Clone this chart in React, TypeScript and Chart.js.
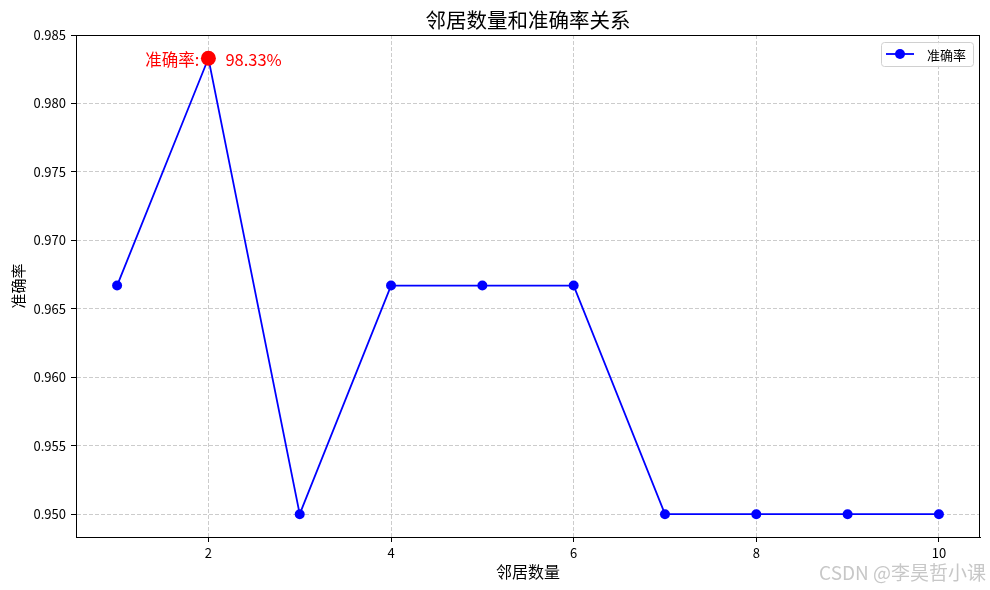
import { useEffect, useRef } from "react";
import { Chart, registerables } from "chart.js";

Chart.register(...registerables);

const neighbors = [1, 2, 3, 4, 5, 6, 7, 8, 9, 10];
const accuracy = [0.9667, 0.9833, 0.95, 0.9667, 0.9667, 0.9667, 0.95, 0.95, 0.95, 0.95];
const xTicks = [2, 4, 6, 8, 10];
const yTicks = [0.95, 0.955, 0.96, 0.965, 0.97, 0.975, 0.98, 0.985];

const FONT = '"Noto Sans CJK SC", sans-serif';

const decor = {
  id: "decor",
  afterDraw(chart: Chart) {
    const { ctx, chartArea: a, scales } = chart;
    const xs = scales.x;
    const ys = scales.y;
    ctx.save();

    // frame
    ctx.strokeStyle = "#000";
    ctx.lineWidth = 1;
    ctx.strokeRect(a.left + 0.5, a.top + 0.5, a.right - a.left - 1, a.bottom - a.top);

    // title
    ctx.fillStyle = "#000";
    ctx.font = `20.5px ${FONT}`;
    ctx.textAlign = "center";
    ctx.textBaseline = "middle";
    ctx.fillText("邻居数量和准确率关系", (a.left + a.right) / 2, 20);

    // best point annotation
    let bi = 0;
    accuracy.forEach((v, i) => {
      if (v > accuracy[bi]) bi = i;
    });
    const px = xs.getPixelForValue(neighbors[bi]);
    const py = ys.getPixelForValue(accuracy[bi]);
    ctx.fillStyle = "red";
    ctx.font = `16.5px ${FONT}`;
    ctx.textBaseline = "middle";
    ctx.textAlign = "right";
    ctx.fillText("准确率:", px - 9, py + 1);
    ctx.textAlign = "left";
    ctx.fillText((accuracy[bi] * 100).toFixed(2) + "%", px + 17, py + 1);
    ctx.beginPath();
    ctx.arc(px, py, 7.5, 0, Math.PI * 2);
    ctx.fill();

    // legend
    const lw = 92;
    const lh = 24;
    const lx = a.right - 7 - lw;
    const ly = a.top + 7;
    ctx.beginPath();
    ctx.roundRect(lx + 0.5, ly + 0.5, lw, lh, 3);
    ctx.fillStyle = "rgba(255,255,255,0.8)";
    ctx.fill();
    ctx.strokeStyle = "#d0d0d0";
    ctx.lineWidth = 1;
    ctx.stroke();
    ctx.strokeStyle = "#0000ff";
    ctx.lineWidth = 1.8;
    ctx.beginPath();
    ctx.moveTo(lx + 5, ly + lh / 2);
    ctx.lineTo(lx + 33, ly + lh / 2);
    ctx.stroke();
    ctx.fillStyle = "#0000ff";
    ctx.beginPath();
    ctx.arc(lx + 19, ly + lh / 2, 5, 0, Math.PI * 2);
    ctx.fill();
    ctx.fillStyle = "#000";
    ctx.font = `13px ${FONT}`;
    ctx.textAlign = "left";
    ctx.fillText("准确率", lx + 46, ly + lh / 2 + 1);

    // watermark
    ctx.fillStyle = "rgba(180,180,180,0.75)";
    ctx.font = `19px ${FONT}`;
    ctx.textAlign = "right";
    ctx.fillText("CSDN @李昊哲小课", 986, 573);

    ctx.restore();
  },
};

export default function App() {
  const canvasRef = useRef<HTMLCanvasElement>(null);

  useEffect(() => {
    if (!canvasRef.current) return;
    const chart = new Chart(canvasRef.current, {
      type: "line",
      data: {
        datasets: [
          {
            label: "准确率",
            data: neighbors.map((k, i) => ({ x: k, y: accuracy[i] })),
            borderColor: "#0000ff",
            backgroundColor: "#0000ff",
            borderWidth: 1.8,
            pointRadius: 5,
            pointBorderWidth: 0,
            pointBackgroundColor: "#0000ff",
            tension: 0,
          },
        ],
      },
      options: {
        responsive: true,
        maintainAspectRatio: false,
        animation: false,
        layout: { padding: { top: 35, right: 10, left: 0, bottom: 0 } },
        plugins: { legend: { display: false }, title: { display: false }, tooltip: { enabled: false } },
        scales: {
          x: {
            type: "linear",
            min: 0.55,
            max: 10.45,
            afterBuildTicks: (s: any) => {
              s.ticks = xTicks.map((v) => ({ value: v }));
            },
            afterFit: (s: any) => {
              s.height = 53;
            },
            grid: {
              color: "#cccccc",
              tickColor: "#000",
              tickLength: 5,
              tickBorderDash: [],
              tickWidth: 1,
            },
            border: { display: true, color: "#000", width: 1, dash: [4, 2] },
            ticks: { color: "#000", font: { family: FONT, size: 13 }, padding: 3, maxRotation: 0 },
            title: {
              display: true,
              text: "邻居数量",
              color: "#000",
              font: { family: FONT, size: 16 },
              padding: { top: 4, bottom: 8 },
            },
          },
          y: {
            type: "linear",
            min: 0.948333,
            max: 0.985,
            afterBuildTicks: (s: any) => {
              s.ticks = yTicks.map((v) => ({ value: v }));
            },
            afterFit: (s: any) => {
              s.width = 76;
            },
            grid: {
              color: "#cccccc",
              tickColor: "#000",
              tickLength: 5,
              tickBorderDash: [],
              tickWidth: 1,
            },
            border: { display: true, color: "#000", width: 1, dash: [4, 2] },
            ticks: {
              color: "#000",
              font: { family: FONT, size: 13 },
              padding: 5,
              callback: (v: any) => Number(v).toFixed(3),
            },
            title: {
              display: true,
              text: "准确率",
              color: "#000",
              font: { family: FONT, size: 15 },
              padding: { top: 9, bottom: 4 },
            },
          },
        },
      },
      plugins: [decor],
    } as any);
    return () => chart.destroy();
  }, []);

  return (
    <div style={{ position: "fixed", left: 0, top: 0, width: 990, height: 590, background: "#fff" }}>
      <canvas ref={canvasRef} />
    </div>
  );
}
